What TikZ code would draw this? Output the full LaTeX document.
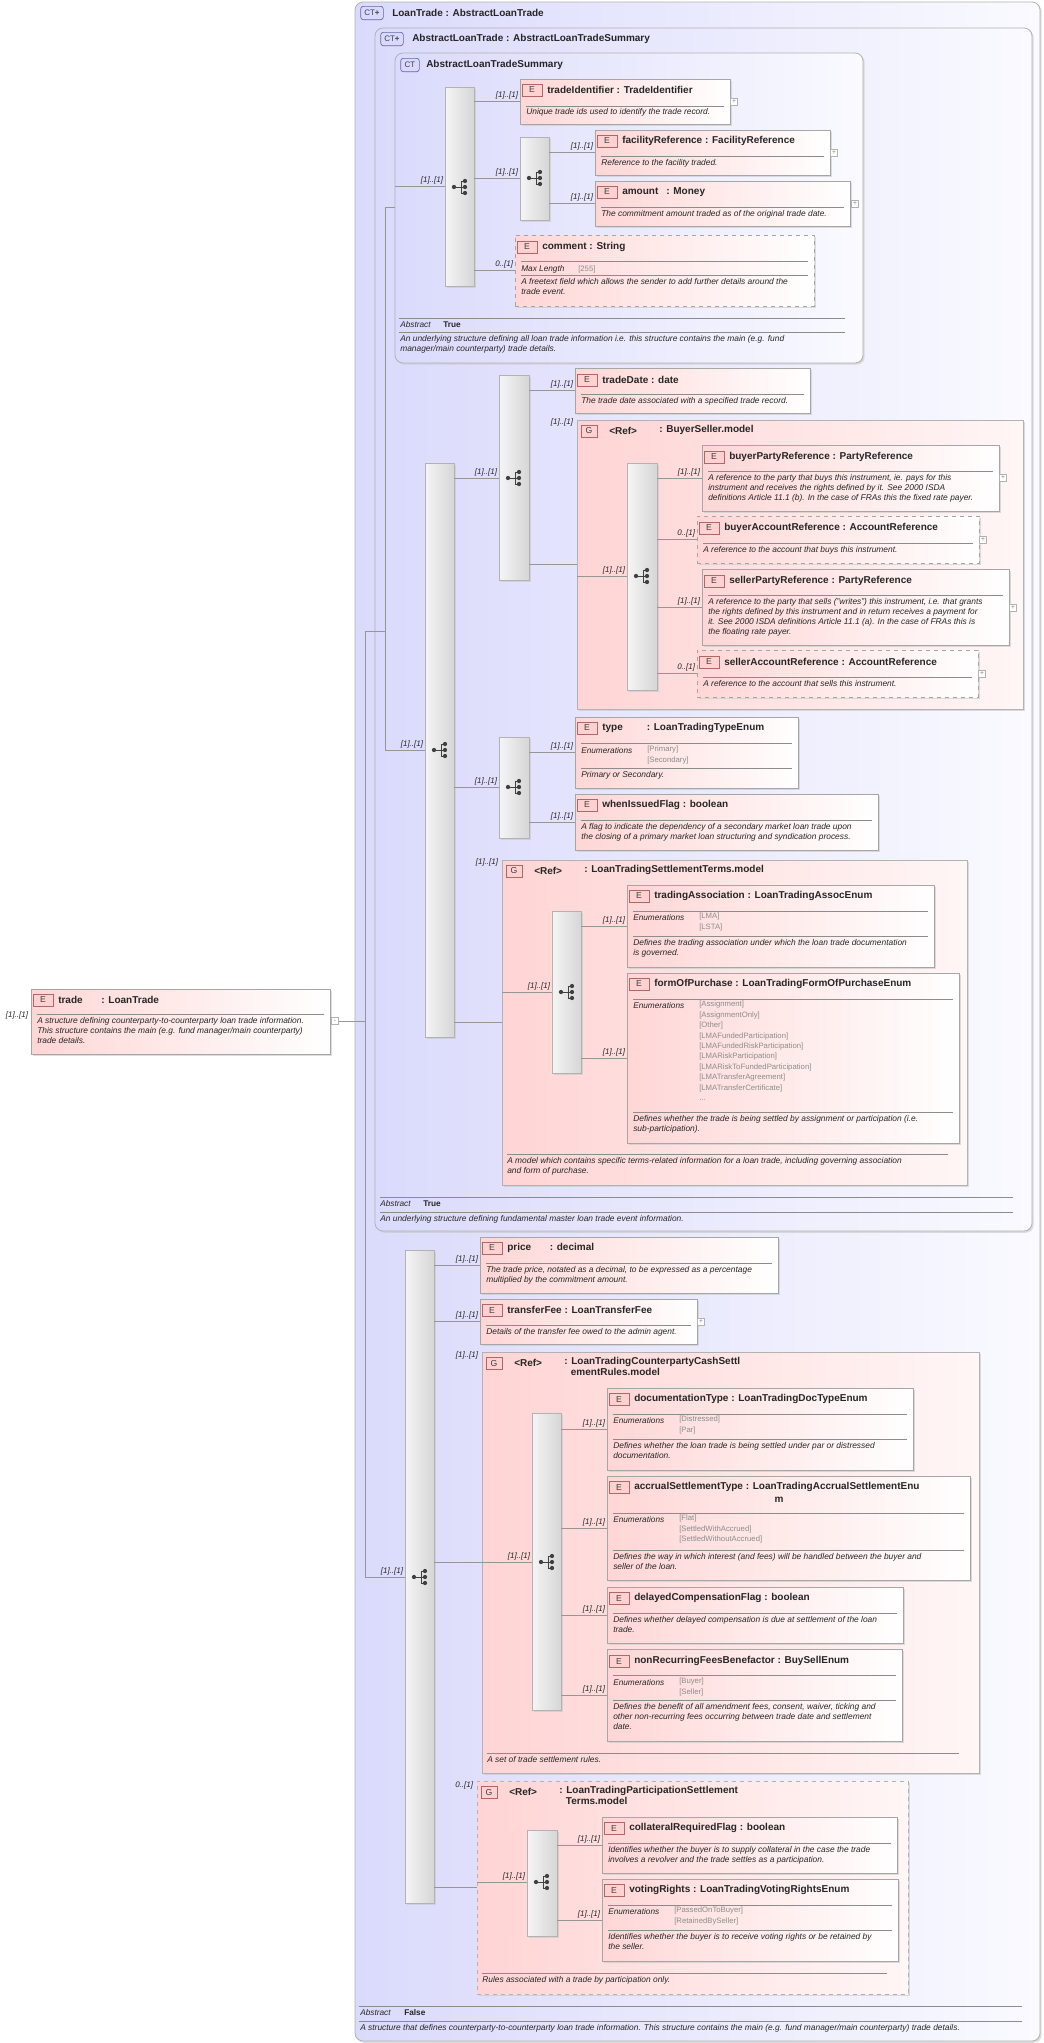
\documentclass[tikz,border=0pt]{standalone}
\usepackage{fontspec}
\setmainfont{Liberation Sans}
\usetikzlibrary{shadows}
\definecolor{ctl}{RGB}{218,218,252}
\definecolor{ctr}{RGB}{250,250,255}
\definecolor{epk}{RGB}{255,214,214}
\definecolor{gpk}{RGB}{255,212,212}
\definecolor{lin}{RGB}{150,150,150}
\definecolor{enu}{RGB}{140,140,140}
\tikzset{
 shd/.style={drop shadow={shadow xshift=1.3pt,shadow yshift=-1.3pt,fill=black!22,opacity=.6}},
 ebox/.style={draw=black!35,line width=.6pt,left color=epk,right color=white,shd},
 gbox/.style={draw=black!30,line width=.6pt,left color=gpk,right color={rgb,255:red,255;green,246;blue,246},shd},
 ctbox/.style={draw=black!30,line width=.6pt,rounded corners=6pt,left color=ctl,right color=ctr,shd},
 sbar/.style={draw=black!30,line width=.5pt,left color=black!4,right color=black!16,shd},
 eicon/.style={draw=red!50!black!60,fill=red!18,line width=.5pt,minimum width=15pt,minimum height=9pt,inner sep=0pt,font=\fontsize{6.5}{6.5}\selectfont,text=black!75},
 cticon/.style={draw=blue!40!black!60,fill=blue!15,rounded corners=2pt,line width=.5pt,minimum width=17pt,minimum height=10pt,inner sep=0pt,font=\fontsize{6}{6}\selectfont,text=black!75},
 ttl/.style={anchor=west,inner sep=0pt,font=\fontsize{7.5}{8.5}\selectfont\bfseries,text=black!85},
 dsc/.style={anchor=north west,inner sep=0pt,align=left,font=\fontsize{6.3}{7.5}\selectfont\itshape,text=black!85},
 enl/.style={anchor=west,inner sep=0pt,font=\fontsize{6.2}{7}\selectfont\itshape,text=black!85},
 env/.style={anchor=north west,inner sep=0pt,align=left,font=\fontsize{5.8}{7.8}\selectfont,text=enu},
 crd/.style={anchor=south east,inner sep=0.5pt,font=\fontsize{6}{6.5}\selectfont\itshape,text=black!85},
 sepl/.style={draw=black!45,line width=.5pt},
 cn/.style={draw=lin,line width=.55pt},
 pbox/.style={draw=black!30,fill=white,minimum size=5pt,inner sep=0pt,font=\fontsize{5}{5}\selectfont,text=black!50},
}
\newcommand\Bx[6]{\node[#1,inner sep=0pt,outer sep=0pt,minimum width={(#5-#3)*0.75pt},minimum height={(#6-#4)*0.75pt}] (#2) at ({(#3+#5)/2},{(#4+#6)/2}) {};}
\newcommand\Et[3]{\node[eicon] at ({#1+12},#2) {E}; \node[ttl] at ({#1+27},#2) {#3};}
\newcommand\Gt[3]{\node[eicon,minimum width=12pt] at ({#1+12},#2) {G}; \node[ttl] at ({#1+32},#2) {<Ref>}; \node[ttl,align=left,anchor=north west] at ({#1+82},{#2-6}) {#3};}
\newcommand\Sl[3]{\draw[sepl] ({#1+6},#3) -- ({#2-6},#3);}
\newcommand\Ds[3]{\node[dsc] at ({#1+6},{#2-5}) {#3};}
\newcommand\En[3]{\node[enl] at ({#1+6},#2) {Enumerations}; \node[env] at ({#1+72},{#2-5}) {#3};}
\newcommand\Cd[3]{\node[crd] at ({#1-1},{#2-1}) {#3};}
\newcommand\Sq[2]{%
 \draw[black!75,line width=.7pt] ({#1-6},#2) -- ({#1+1},#2) ({#1+1},{#2-6}) -- ({#1+1},{#2+6}) ({#1+1},{#2-6}) -- ({#1+5},{#2-6}) ({#1+1},{#2+6}) -- ({#1+5},{#2+6}) ({#1+1},#2) -- ({#1+5},#2);
 \fill[black!75] ({#1-6},#2) circle (1.6pt) ({#1+5},{#2-6}) circle (1.6pt) ({#1+5},#2) circle (1.6pt) ({#1+5},{#2+6}) circle (1.6pt);}
\newcommand\Pl[2]{\node[pbox] at (#1,#2) {+};}
\begin{document}
\begin{tikzpicture}[x=0.75pt,y=-0.75pt]
\useasboundingbox (0,0) rectangle (1044,2043);
\fill[white] (0,0) rectangle (1044,2043);
% ===== complex type boxes
\Bx{ctbox}{ct1}{355}{2}{1040}{2041}
\node[cticon] at (372,13) {CT\textbf{+}};
\node[ttl] at (392,13) {LoanTrade : AbstractLoanTrade};
\draw[sepl] (359,2006) -- (1022,2006);
\node[enl] at (360,2013) {Abstract}; \node[ttl,font=\fontsize{6.2}{7}\selectfont\bfseries] at (404,2013) {False};
\draw[sepl] (359,2021) -- (1022,2021);
\Ds{354}{2029}{A structure that defines counterparty-to-counterparty loan trade information. This structure contains the main (e.g. fund manager/main counterparty) trade details.}

\Bx{ctbox}{ct2}{375}{28}{1032}{1231}
\node[cticon] at (392,39) {CT\textbf{+}};
\node[ttl] at (412,39) {AbstractLoanTrade : AbstractLoanTradeSummary};
\draw[sepl] (380,1197) -- (1013,1197);
\node[enl] at (380,1204) {Abstract}; \node[ttl,font=\fontsize{6.2}{7}\selectfont\bfseries] at (423,1204) {True};
\draw[sepl] (380,1212) -- (1013,1212);
\Ds{374}{1220}{An underlying structure defining fundamental master loan trade event information.}

\Bx{ctbox}{ct3}{395}{53}{863}{363}
\node[cticon,minimum width=14pt] at (410,65) {CT};
\node[ttl] at (426,65) {AbstractLoanTradeSummary};
\draw[sepl] (399,318) -- (845,318);
\node[enl] at (400,325) {Abstract}; \node[ttl,font=\fontsize{6.2}{7}\selectfont\bfseries] at (443,325) {True};
\draw[sepl] (399,332) -- (845,332);
\Ds{394}{340}{An underlying structure defining all loan trade information i.e. this structure contains the main (e.g. fund\\manager/main counterparty) trade details.}

% ===== trade element
\Bx{ebox}{trade}{31}{989}{330}{1054}
\Et{31}{1000}{trade\hspace{14pt}: LoanTrade}
\Sl{31}{330}{1014}
\Ds{31}{1022}{A structure defining counterparty-to-counterparty loan trade information.\\This structure contains the main (e.g. fund manager/main counterparty)\\trade details.}
\node[pbox] (tm) at (335,1021) {-};
\node[crd,anchor=east] at (29,1015) {[1]..[1]};
\coordinate (j1) at (365,1021);
\coordinate (j2) at (365,631);
\coordinate (j3) at (385,631);
\coordinate (j4) at (385,207);

% ===== summary sequence
\Bx{sbar}{b1}{445}{87}{474}{286} \Sq{460}{187}
\Bx{sbar}{b2}{520}{137}{549}{220} \Sq{535}{178}
\Bx{ebox}{tid}{520}{79}{730}{124}
\Et{520}{90}{tradeIdentifier : TradeIdentifier} \Sl{520}{730}{106}
\Ds{520}{113}{Unique trade ids used to identify the trade record.} \Pl{734}{102}
\Bx{ebox}{fac}{595}{130}{830}{175}
\Et{595}{141}{facilityReference : FacilityReference} \Sl{595}{830}{156}
\Ds{595}{164}{Reference to the facility traded.} \Pl{834}{153}
\Bx{ebox}{amt}{595}{181}{850}{226}
\Et{595}{192}{amount\hspace{6pt}: Money} \Sl{595}{850}{207}
\Ds{595}{215}{The commitment amount traded as of the original trade date.} \Pl{855}{204}
\Bx{ebox,dashed}{com}{515}{235}{814}{306}
\Et{515}{247}{comment : String} \Sl{515}{814}{261}
\node[enl] at (521,269) {Max Length}; \node[env,anchor=west] at (578,269) {[255]};
\Sl{515}{814}{275}
\Ds{515}{283}{A freetext field which allows the sender to add further details around the\\trade event.}

% ===== sequence B
\Bx{sbar}{bB}{425}{463}{454}{1037} \Sq{440}{750}
\Bx{sbar}{bB1}{499}{375}{529}{580} \Sq{514}{478}
\Bx{ebox}{tdt}{575}{368}{810}{413}
\Et{575}{380}{tradeDate : date} \Sl{575}{810}{394}
\Ds{575}{402}{The trade date associated with a specified trade record.}
\Bx{gbox}{gBS}{577}{420}{1023}{709}
\Gt{577}{431}{: BuyerSeller.model}
\Bx{sbar}{bBS}{627}{463}{657}{690} \Sq{642}{576}
\Bx{ebox}{bpr}{702}{445}{999}{511}
\Et{702}{457}{buyerPartyReference : PartyReference} \Sl{702}{999}{471}
\Ds{702}{479}{A reference to the party that buys this instrument, ie. pays for this\\instrument and receives the rights defined by it. See 2000 ISDA\\definitions Article 11.1 (b). In the case of FRAs this the fixed rate payer.} \Pl{1003}{478}
\Bx{ebox,dashed}{bar}{697}{516}{979}{563}
\Et{697}{528}{buyerAccountReference : AccountReference} \Sl{697}{979}{543}
\Ds{697}{551}{A reference to the account that buys this instrument.} \Pl{983}{540}
\Bx{ebox}{spr}{702}{569}{1009}{645}
\Et{702}{581}{sellerPartyReference : PartyReference} \Sl{702}{1009}{595}
\Ds{702}{603}{A reference to the party that sells ("writes") this instrument, i.e. that grants\\the rights defined by this instrument and in return receives a payment for\\it. See 2000 ISDA definitions Article 11.1 (a). In the case of FRAs this is\\the floating rate payer.} \Pl{1013}{608}
\Bx{ebox,dashed}{sar}{697}{650}{978}{697}
\Et{697}{662}{sellerAccountReference : AccountReference} \Sl{697}{978}{677}
\Ds{697}{685}{A reference to the account that sells this instrument.} \Pl{982}{674}

\Bx{sbar}{bT}{499}{737}{529}{838} \Sq{514}{787}
\Bx{ebox}{typ}{575}{717}{798}{788}
\Et{575}{728}{type\hspace{18pt}: LoanTradingTypeEnum} \Sl{575}{798}{743}
\En{575}{751}{{[Primary]}\\{[Secondary]}} \Sl{575}{798}{768}
\Ds{575}{776}{Primary or Secondary.}
\Bx{ebox}{wif}{575}{794}{878}{850}
\Et{575}{805}{whenIssuedFlag : boolean} \Sl{575}{878}{820}
\Ds{575}{828}{A flag to indicate the dependency of a secondary market loan trade upon\\the closing of a primary market loan structuring and syndication process.}

\Bx{gbox}{gLS}{502}{860}{967}{1185}
\Gt{502}{871}{: LoanTradingSettlementTerms.model}
\draw[sepl] (507,1154) -- (948,1154);
\Ds{501}{1162}{A model which contains specific terms-related information for a loan trade, including governing association\\and form of purchase.}
\Bx{sbar}{bLS}{552}{911}{581}{1073} \Sq{567}{992}
\Bx{ebox}{ta}{627}{885}{934}{967}
\Et{627}{896}{tradingAssociation : LoanTradingAssocEnum} \Sl{627}{934}{911}
\En{627}{918}{{[LMA]}\\{[LSTA]}} \Sl{627}{934}{936}
\Ds{627}{944}{Defines the trading association under which the loan trade documentation\\is governed.}
\Bx{ebox}{fop}{627}{973}{959}{1143}
\Et{627}{984}{formOfPurchase : LoanTradingFormOfPurchaseEnum} \Sl{627}{959}{999}
\En{627}{1006}{{[Assignment]}\\{[AssignmentOnly]}\\{[Other]}\\{[LMAFundedParticipation]}\\{[LMAFundedRiskParticipation]}\\{[LMARiskParticipation]}\\{[LMARiskToFundedParticipation]}\\{[LMATransferAgreement]}\\{[LMATransferCertificate]}\\...}
\Sl{627}{959}{1112}
\Ds{627}{1120}{Defines whether the trade is being settled by assignment or participation (i.e.\\sub-participation).}

% ===== sequence C
\Bx{sbar}{bC}{405}{1250}{434}{1903} \Sq{420}{1577}
\Bx{ebox}{prc}{480}{1237}{778}{1293}
\Et{480}{1248}{price\hspace{14pt}: decimal} \Sl{480}{778}{1263}
\Ds{480}{1271}{The trade price, notated as a decimal, to be expressed as a percentage\\multiplied by the commitment amount.}
\Bx{ebox}{tfe}{480}{1299}{697}{1344}
\Et{480}{1310}{transferFee : LoanTransferFee} \Sl{480}{697}{1325}
\Ds{480}{1333}{Details of the transfer fee owed to the admin agent.} \Pl{701}{1322}

\Bx{gbox}{gCS}{482}{1352}{979}{1773}
\Gt{482}{1363}{: LoanTradingCounterpartyCashSettl\\\hspace*{5pt}ementRules.model}
\draw[sepl] (487,1753) -- (959,1753);
\Ds{481}{1761}{A set of trade settlement rules.}
\Bx{sbar}{bCS}{532}{1413}{561}{1710} \Sq{547}{1562}
\Bx{ebox}{doc}{607}{1388}{913}{1470}
\Et{607}{1399}{documentationType : LoanTradingDocTypeEnum} \Sl{607}{913}{1414}
\En{607}{1421}{{[Distressed]}\\{[Par]}} \Sl{607}{913}{1439}
\Ds{607}{1447}{Defines whether the loan trade is being settled under par or distressed\\documentation.}
\Bx{ebox}{acc}{607}{1476}{970}{1580}
\Et{607}{1487}{accrualSettlementType : LoanTradingAccrualSettlementEnu}
\node[ttl,anchor=center] at (779,1500) {m};
\Sl{607}{970}{1513}
\En{607}{1520}{{[Flat]}\\{[SettledWithAccrued]}\\{[SettledWithoutAccrued]}} \Sl{607}{970}{1550}
\Ds{607}{1558}{Defines the way in which interest (and fees) will be handled between the buyer and\\seller of the loan.}
\Bx{ebox}{dcf}{607}{1587}{903}{1643}
\Et{607}{1598}{delayedCompensationFlag : boolean} \Sl{607}{903}{1613}
\Ds{607}{1621}{Defines whether delayed compensation is due at settlement of the loan\\trade.}
\Bx{ebox}{nrf}{607}{1649}{902}{1741}
\Et{607}{1661}{nonRecurringFeesBenefactor : BuySellEnum} \Sl{607}{902}{1675}
\En{607}{1683}{{[Buyer]}\\{[Seller]}} \Sl{607}{902}{1700}
\Ds{607}{1708}{Defines the benefit of all amendment fees, consent, waiver, ticking and\\other non-recurring fees occurring between trade date and settlement\\date.}

\Bx{gbox,dashed}{gP}{477}{1781}{908}{1994}
\Gt{477}{1792}{: LoanTradingParticipationSettlement\\\hspace*{5pt}Terms.model}
\draw[sepl] (482,1973) -- (887,1973);
\Ds{476}{1981}{Rules associated with a trade by participation only.}
\Bx{sbar}{bP}{527}{1830}{557}{1936} \Sq{542}{1882}
\Bx{ebox}{crf}{602}{1817}{897}{1873}
\Et{602}{1828}{collateralRequiredFlag : boolean} \Sl{602}{897}{1843}
\Ds{602}{1851}{Identifies whether the buyer is to supply collateral in the case the trade\\involves a revolver and the trade settles as a participation.}
\Bx{ebox}{vr}{602}{1879}{898}{1961}
\Et{602}{1890}{votingRights : LoanTradingVotingRightsEnum} \Sl{602}{898}{1905}
\En{602}{1912}{{[PassedOnToBuyer]}\\{[RetainedBySeller]}} \Sl{602}{898}{1930}
\Ds{602}{1938}{Identifies whether the buyer is to receive voting rights or be retained by\\the seller.}

% ===== connectors
\draw[cn] (tm.east) -- (j1) -- (365,1577) -- (bC.west |- 0,1577); \Cd{405}{1577}{[1]..[1]}
\draw[cn] (j1) -- (j2) -- (j3) -- (385,750) -- (bB.west |- 0,750); \Cd{425}{750}{[1]..[1]}
\draw[cn] (j3) -- (j4) -- (ct3.west |- 0,207);
\draw[cn] (ct3.west |- 0,186) -- (b1.west |- 0,186); \Cd{445}{186}{[1]..[1]}
\draw[cn] (b1.east |- 0,101) -- (tid.west |- 0,101); \Cd{520}{101}{[1]..[1]}
\draw[cn] (b1.east |- 0,178) -- (b2.west |- 0,178); \Cd{520}{178}{[1]..[1]}
\draw[cn] (b2.east |- 0,152) -- (fac.west |- 0,152); \Cd{595}{152}{[1]..[1]}
\draw[cn] (b2.east |- 0,203) -- (amt.west |- 0,203); \Cd{595}{203}{[1]..[1]}
\draw[cn] (b1.east |- 0,270) -- (com.west |- 0,270); \Cd{515}{270}{0..[1]}
\draw[cn] (bB.east |- 0,478) -- (bB1.west |- 0,478); \Cd{499}{478}{[1]..[1]}
\draw[cn] (bB1.east |- 0,390) -- (tdt.west |- 0,390); \Cd{575}{390}{[1]..[1]}
\draw[cn] (bB1.east |- 0,564) -- (gBS.west |- 0,564); \Cd{575}{428}{[1]..[1]}
\draw[cn] (gBS.west |- 0,576) -- (bBS.west |- 0,576); \Cd{627}{576}{[1]..[1]}
\draw[cn] (bBS.east |- 0,478) -- (bpr.west |- 0,478); \Cd{702}{478}{[1]..[1]}
\draw[cn] (bBS.east |- 0,539) -- (bar.west |- 0,539); \Cd{697}{539}{0..[1]}
\draw[cn] (bBS.east |- 0,607) -- (spr.west |- 0,607); \Cd{702}{607}{[1]..[1]}
\draw[cn] (bBS.east |- 0,673) -- (sar.west |- 0,673); \Cd{697}{673}{0..[1]}
\draw[cn] (bB.east |- 0,787) -- (bT.west |- 0,787); \Cd{499}{787}{[1]..[1]}
\draw[cn] (bT.east |- 0,752) -- (typ.west |- 0,752); \Cd{575}{752}{[1]..[1]}
\draw[cn] (bT.east |- 0,822) -- (wif.west |- 0,822); \Cd{575}{822}{[1]..[1]}
\draw[cn] (bB.east |- 0,1022) -- (gLS.west |- 0,1022); \Cd{500}{868}{[1]..[1]}
\draw[cn] (gLS.west |- 0,992) -- (bLS.west |- 0,992); \Cd{552}{992}{[1]..[1]}
\draw[cn] (bLS.east |- 0,926) -- (ta.west |- 0,926); \Cd{627}{926}{[1]..[1]}
\draw[cn] (bLS.east |- 0,1058) -- (fop.west |- 0,1058); \Cd{627}{1058}{[1]..[1]}
\draw[cn] (bC.east |- 0,1265) -- (prc.west |- 0,1265); \Cd{480}{1265}{[1]..[1]}
\draw[cn] (bC.east |- 0,1321) -- (tfe.west |- 0,1321); \Cd{480}{1321}{[1]..[1]}
\draw[cn] (bC.east |- 0,1562) -- (gCS.west |- 0,1562); \Cd{480}{1361}{[1]..[1]}
\draw[cn] (gCS.west |- 0,1562) -- (bCS.west |- 0,1562); \Cd{532}{1562}{[1]..[1]}
\draw[cn] (bCS.east |- 0,1429) -- (doc.west |- 0,1429); \Cd{607}{1429}{[1]..[1]}
\draw[cn] (bCS.east |- 0,1528) -- (acc.west |- 0,1528); \Cd{607}{1528}{[1]..[1]}
\draw[cn] (bCS.east |- 0,1615) -- (dcf.west |- 0,1615); \Cd{607}{1615}{[1]..[1]}
\draw[cn] (bCS.east |- 0,1695) -- (nrf.west |- 0,1695); \Cd{607}{1695}{[1]..[1]}
\draw[cn] (bC.east |- 0,1887) -- (gP.west |- 0,1887); \Cd{475}{1791}{0..[1]}
\draw[cn] (gP.west |- 0,1882) -- (bP.west |- 0,1882); \Cd{527}{1882}{[1]..[1]}
\draw[cn] (bP.east |- 0,1845) -- (crf.west |- 0,1845); \Cd{602}{1845}{[1]..[1]}
\draw[cn] (bP.east |- 0,1920) -- (vr.west |- 0,1920); \Cd{602}{1920}{[1]..[1]}
\end{tikzpicture}
\end{document}
